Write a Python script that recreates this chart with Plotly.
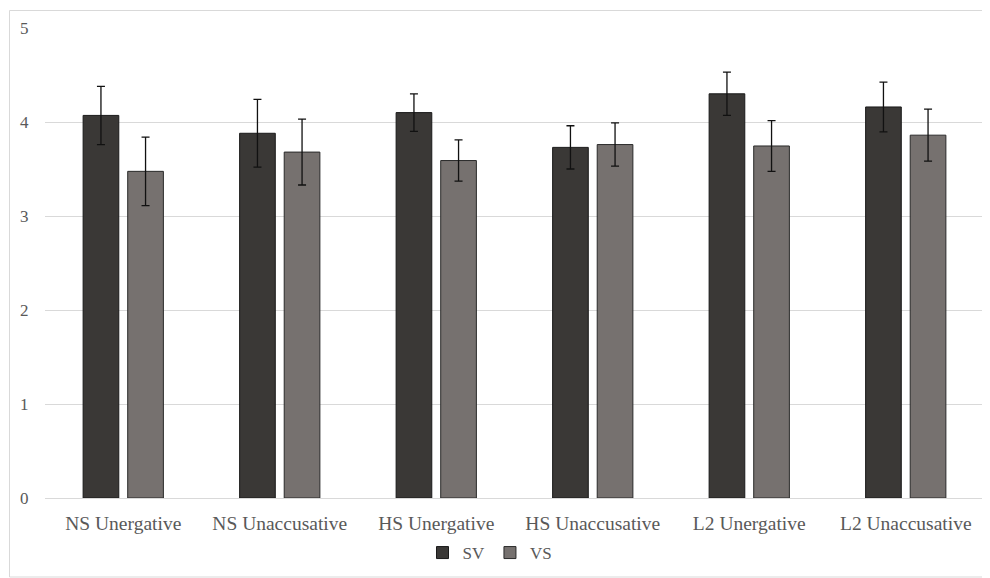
import plotly.graph_objects as go

categories = ["NS Unergative", "NS Unaccusative", "HS Unergative", "HS Unaccusative", "L2 Unergative", "L2 Unaccusative"]
sv_values = [4.07, 3.88, 4.10, 3.73, 4.30, 4.16]
sv_errors = [0.31, 0.36, 0.20, 0.23, 0.23, 0.265]
vs_values = [3.475, 3.68, 3.59, 3.76, 3.745, 3.86]
vs_errors = [0.365, 0.35, 0.22, 0.23, 0.27, 0.277]
y_ticks = [0, 1, 2, 3, 4, 5]

FONT = "Liberation Serif"
W, H = 990, 578
OFF = 8  # page body margin
# target plot area in window pixels
PL, PR, PT, PB = 45, 984, 28, 498
ML = PL - OFF
MT = PT - OFF
MR = W + OFF - PR
MB = H + OFF - PB
pw = PR - PL
ph = PB - PT

fig = go.Figure()
fig.add_trace(go.Bar(
    name="SV", x=categories, y=sv_values,
    marker=dict(color="#3a3836", line=dict(color="#1a1a1a", width=1)),
    error_y=dict(type="data", array=sv_errors, color="#111111", thickness=1.3, width=4),
))
fig.add_trace(go.Bar(
    name="VS", x=categories, y=vs_values,
    marker=dict(color="#76716f", line=dict(color="#2a2a2a", width=1)),
    error_y=dict(type="data", array=vs_errors, color="#111111", thickness=1.3, width=4),
))

def px_x(p):
    return (p - PL) / pw

def px_y(p):
    return (PB - p) / ph

fig.add_shape(type="rect", xref="paper", yref="paper",
              x0=px_x(9.5), x1=px_x(1010), y0=px_y(577), y1=px_y(10.5),
              line=dict(color="#d9d9d9", width=1), fillcolor="rgba(0,0,0,0)", layer="below")

fig.update_layout(
    width=W, height=H,
    margin=dict(l=ML, r=MR, t=MT, b=MB),
    paper_bgcolor="white", plot_bgcolor="white",
    barmode="group", bargap=0.43, bargroupgap=0.2,
    font=dict(family=FONT, color="#595959"),
    showlegend=True,
    legend=dict(orientation="h", x=px_x(490), xanchor="center", y=px_y(553), yanchor="middle",
                font=dict(size=17, color="#595959", family="Liberation Serif, serif"),
                itemwidth=30, tracegroupgap=0),
    xaxis=dict(showgrid=False, showline=False, ticks="outside", ticklen=8, tickcolor="rgba(0,0,0,0)",
               tickfont=dict(size=19.5, family=FONT, color="#595959")),
    yaxis=dict(range=[0, 5], tickvals=y_ticks, showgrid=True, gridcolor="#d9d9d9", gridwidth=1,
               zeroline=True, zerolinecolor="#d9d9d9", zerolinewidth=1, showline=False,
               ticks="outside", ticklen=12, tickcolor="rgba(0,0,0,0)",
               tickfont=dict(size=17, family=FONT, color="#595959")),
)

fig.write_html("out.html")
